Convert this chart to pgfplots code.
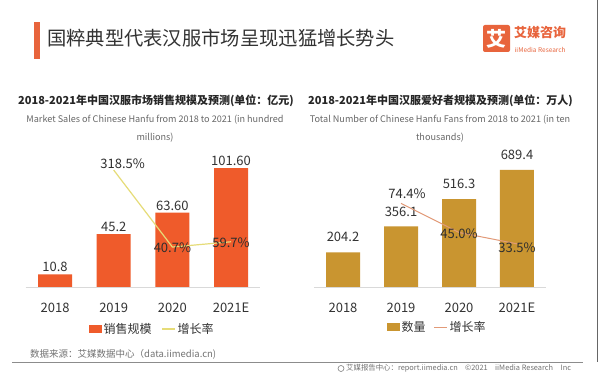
\documentclass[border=0pt]{standalone}
\usepackage{fontspec}
\setmainfont{Noto Sans CJK SC}
\usepackage{pgfplots}
\usepackage{pgfplotstable}
\pgfplotsset{compat=1.18}

\definecolor{barL}{HTML}{EF5B2B}
\definecolor{barR}{HTML}{C99530}
\definecolor{lineL}{HTML}{E6DC78}
\definecolor{lineR}{HTML}{E29A78}
\definecolor{txt}{HTML}{333333}
\definecolor{logo}{HTML}{E8643C}
\newcommand{\fs}[1]{\fontsize{#1}{#1}\selectfont}

\pgfplotstableread{
x y label
0 10.8 10.8
1 45.2 45.2
2 63.6 63.60
3 101.6 101.60
}\salesdata
\pgfplotstableread{
x y label dx dy
1 318.5 318.5 9 6
2 40.7 40.7 0 -1
3 59.7 59.7 0 -1
}\salesgrowth
\pgfplotstableread{
x y label
0 204.2 204.2
1 356.1 356.1
2 516.3 516.3
3 689.4 689.4
}\fansdata
\pgfplotstableread{
x y label dx dy
1 74.4 74.4 6 10
2 45.0 45.0 0 -1.5
3 33.5 33.5 0 -4
}\fansgrowth

\pgfplotsset{
  base/.style={anchor=south west, scale only axis, height=127pt,
    xmin=-0.5, xmax=3.5, clip=false},
  prim/.style={base, axis x line=bottom, axis y line=none,
    x axis line style={draw=black!15, line width=0.8pt, -},
    xtick={0,1,2,3}, xticklabels={2018,2019,2020,2021E},
    xtick style={draw=none}, ytick=\empty,
    xticklabel style={font=\fs{13}, text=txt, yshift=-10.5pt}},
  sec/.style={base, hide axis},
}

\begin{document}
\begin{tikzpicture}[x=1pt,y=1pt]
\useasboundingbox (0,0) rectangle (600,380);
\fill[white] (0,0) rectangle (600,380);

% header
\fill[logo] (34,321) rectangle (39.5,358);
\node[anchor=west, font=\fs{19.3}, text=txt, inner sep=0pt] at (47,342) {国粹典型代表汉服市场呈现迅猛增长势头};
\fill[logo, rounded corners=2pt] (483,328) rectangle (510,355);
\node[text=white, font=\bfseries\fs{20}, inner sep=0pt] at (496.5,341.5) {艾};
\node[anchor=west, text=logo, font=\bfseries\fs{13}, inner sep=0pt] at (514,347.5) {艾媒咨询};
\node[anchor=west, text=logo, font=\fs{6.5}, inner sep=0pt] at (514.5,330) {iiMedia Research};

% subtitles
\node[font=\bfseries\fs{11}, text=black!85] at (156,279) {2018-2021年中国汉服市场销售规模及预测(单位：亿元)};
\node[font=\fs{9.1}, text=black!60] at (155,260) {Market Sales of Chinese Hanfu from 2018 to 2021 (in hundred};
\node[font=\fs{9.1}, text=black!60] at (155,242) {millions)};
\node[font=\bfseries\fs{11}, text=black!85] at (440.5,279) {2018-2021年中国汉服爱好者规模及预测(单位：万人)};
\node[font=\fs{9.1}, text=black!60] at (440,260) {Total Number of Chinese Hanfu Fans from 2018 to 2021 (in ten};
\node[font=\fs{9.1}, text=black!60] at (440,242) {thousands)};

% left chart
\begin{axis}[prim, at={(25.7pt,93pt)}, width=234.7pt, ymin=0, ymax=108.5]
\addplot[ybar, bar width=34pt, fill=barL, draw=none,
  point meta=explicit symbolic, nodes near coords,
  every node near coord/.append style={font=\fs{13}, text=txt, inner sep=0pt, anchor=south, yshift=2pt}]
  table[x=x, y=y, meta=label] {\salesdata};
\end{axis}
\begin{axis}[sec, at={(25.7pt,93pt)}, width=234.7pt, ymin=-103.6, ymax=354.9,
  legend style={at={(0.54,-0.331)}, anchor=center, draw=none, fill=none,
    legend columns=2, font=\fs{12}, text=txt,
    /tikz/every even column/.append style={column sep=8pt}}]
\addlegendimage{legend image code/.code={\fill[barL] (0pt,-3.5pt) rectangle (12pt,3.5pt);}}
\addlegendentry{销售规模}
\addplot[lineL, line width=1.2pt, mark=none,
  legend image code/.code={\draw[lineL, line width=1.2pt] (0pt,0pt) -- (13pt,0pt);},
  point meta=explicit symbolic,
  visualization depends on={\thisrow{dx} \as \dx},
  visualization depends on={\thisrow{dy} \as \dy},
  nodes near coords={\pgfplotspointmeta\%},
  every node near coord/.append style={font=\fs{13}, text=txt!90!black, inner sep=0pt, anchor=center, xshift=\dx pt, yshift=\dy pt}]
  table[x=x, y=y, meta=label] {\salesgrowth};
\addlegendentry{增长率}
\end{axis}

% right chart
\begin{axis}[prim, at={(314pt,93pt)}, width=232pt, ymin=0, ymax=747]
\addplot[ybar, bar width=34pt, fill=barR, draw=none,
  point meta=explicit symbolic, nodes near coords,
  every node near coord/.append style={font=\fs{13}, text=txt, inner sep=0pt, anchor=south, yshift=10pt}]
  table[x=x, y=y, meta=label] {\fansdata};
\end{axis}
\begin{axis}[sec, at={(314pt,93pt)}, width=232pt, ymin=-10.1, ymax=118.2,
  legend style={at={(0.532,-0.315)}, anchor=center, draw=none, fill=none,
    legend columns=2, font=\fs{12}, text=txt,
    /tikz/every even column/.append style={column sep=6pt}}]
\addlegendimage{legend image code/.code={\fill[barR] (0pt,-3.5pt) rectangle (12pt,3.5pt);}}
\addlegendentry{数量}
\addplot[lineR, line width=1pt, mark=none,
  legend image code/.code={\draw[lineR, line width=1pt] (0pt,0pt) -- (13pt,0pt);},
  point meta=explicit symbolic,
  visualization depends on={\thisrow{dx} \as \dx},
  visualization depends on={\thisrow{dy} \as \dy},
  nodes near coords={\pgfplotspointmeta\%},
  every node near coord/.append style={font=\fs{13}, text=txt!90!black, inner sep=0pt, anchor=center, xshift=\dx pt, yshift=\dy pt}]
  table[x=x, y=y, meta=label] {\fansgrowth};
\addlegendentry{增长率}
\end{axis}

% footer
\node[anchor=west, font=\fs{9.5}, text=black!55, inner sep=0pt] at (30,26) {数据来源：艾媒数据中心（data.iimedia.cn)};
\draw[black!45, line width=0.8pt] (12,18) -- (583,18);
\draw[black!50, line width=0.6pt] (341,11.5) circle (3pt);
\node[anchor=west, font=\fs{7.4}, text=black!55, inner sep=0pt] at (346,11.5) {艾媒报告中心：report.iimedia.cn\quad ©2021\quad iiMedia Research\quad Inc};
\draw[black!60, line width=1pt] (597.5,380) -- (597.5,18);
\end{tikzpicture}
\end{document}
